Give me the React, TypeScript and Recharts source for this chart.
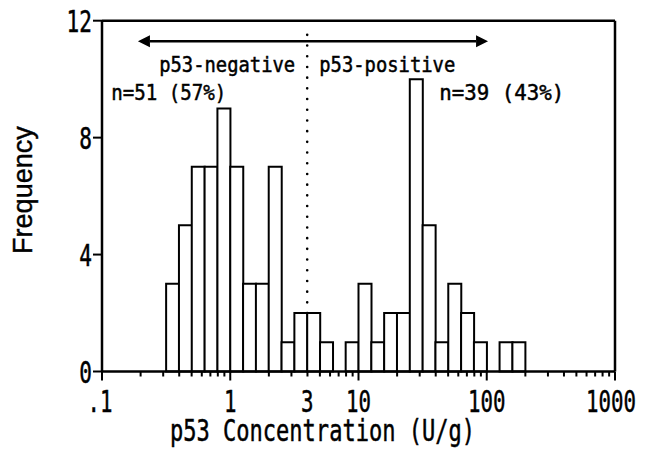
import React from 'react';
import { BarChart, Bar, XAxis, YAxis, ReferenceLine, ReferenceDot } from 'recharts';

// Histogram bins: centres in log10(U/g) units, bin width 0.1 decade
const BIN_LOG_CENTERS = [
  -0.45, -0.35, -0.25, -0.15, -0.05, 0.05, 0.15, 0.25, 0.35, 0.45,
  0.55, 0.65, 0.75, 0.85, 0.95, 1.05, 1.15, 1.25, 1.35, 1.45,
  1.55, 1.65, 1.75, 1.85, 1.95, 2.05, 2.15, 2.25,
];
const FREQUENCY = [
  3, 5, 7, 7, 9, 7, 3, 3, 7, 1,
  2, 2, 1, 0, 1, 3, 1, 2, 2, 10,
  5, 1, 3, 2, 1, 0, 1, 1,
];

const Y_TICKS = [0, 4, 8, 12];
const X_MAJOR = [0.1, 1, 10, 100, 1000];
const X_MINOR_FACTORS = [2, 3, 4, 5, 6, 7, 8, 9];
const X_LABEL_VALUES = [0.1, 1, 4, 10, 100, 1000]; // the "3" label sits at the cutoff line
const X_LABELS = ['.1', '1', '3', '10', '100', '1000'];
const CUTOFF_LOG = 0.6;

const ARROW_FROM = -0.72;
const ARROW_TO = 2.01;
const ARROW_Y = 11.3;
const DOT_TOP = 11.7;
const DOT_BOTTOM = 2;

const ANNOTATIONS = [
  { text: 'p53-negative', x: -0.554, y: 10.24, len: 136 },
  { text: 'p53-positive', x: 0.694, y: 10.24, len: 136 },
  { text: 'n=51 (57%)', x: -0.928, y: 9.28, len: 115 },
  { text: 'n=39 (43%)', x: 1.63, y: 9.28, len: 125 },
];

const data = BIN_LOG_CENTERS.map((x, i) => ({ x, count: FREQUENCY[i] }));
const majorLog = X_MAJOR.map((v) => Math.log10(v));
const minorLog: number[] = [];
X_MAJOR.slice(0, -1).forEach((d) => X_MINOR_FACTORS.forEach((f) => minorLog.push(Math.log10(d * f))));
const labelLog = X_LABEL_VALUES.map((v, i) => (X_LABELS[i] === '3' ? CUTOFF_LOG : Math.log10(v)));
const allTicks = Array.from(new Set([...majorLog, ...minorLog, ...labelLog])).sort((a, b) => a - b);

const MONO = "'DejaVu Sans Mono', monospace";
const TEXT_STROKE = { stroke: '#000', strokeWidth: 0.5 };
const near = (a: number, b: number) => Math.abs(a - b) < 1e-6;

const XTick = (props: any) => {
  const { x, y, payload } = props;
  const v = payload.value;
  const isMajor = majorLog.some((m) => near(m, v));
  const isMinor = minorLog.some((m) => near(m, v));
  const li = labelLog.findIndex((m) => near(m, v));
  const last = li === X_LABELS.length - 1;
  const first = li === 0;
  return (
    <g>
      {(isMajor || isMinor) && (
        <line x1={x} x2={x} y1={y} y2={y + (isMajor ? 9 : 5)} stroke="#000" strokeWidth={2} />
      )}
      {li >= 0 && (
        <text
          transform={`translate(${x + (last ? -4 : first ? -2 : 0)},${y + 40}) scale(0.67,1)`}
          textAnchor="middle"
          fontFamily={MONO}
          fontSize={31}
          fill="#000"
          {...TEXT_STROKE}
        >
          {X_LABELS[li]}
        </text>
      )}
    </g>
  );
};

const YTick = (props: any) => {
  const { x, y, payload } = props;
  return (
    <text
      transform={`translate(${x},${y}) scale(0.68,1)`}
      textAnchor="end"
      dy="0.36em"
      fontFamily={MONO}
      fontSize={31}
      fill="#000"
      {...TEXT_STROKE}
    >
      {payload.value}
    </text>
  );
};

const Arrow = (p: any) => {
  const { x1, y1, x2, y2 } = p;
  const h = 12;
  const w = 6;
  return (
    <g>
      <line x1={x1 + h} y1={y1} x2={x2 - h} y2={y2} stroke="#000" strokeWidth={2.5} />
      <polygon points={`${x1},${y1} ${x1 + h},${y1 - w} ${x1 + h},${y1 + w}`} fill="#000" />
      <polygon points={`${x2},${y2} ${x2 - h},${y2 - w} ${x2 - h},${y2 + w}`} fill="#000" />
    </g>
  );
};

const makeText = (text: string, len: number) => (p: any) => (
  <text
    x={p.cx}
    y={p.cy}
    fontFamily={MONO}
    fontSize={22}
    textLength={len}
    lengthAdjust="spacingAndGlyphs"
    fill="#000"
    {...TEXT_STROKE}
  >
    {text}
  </text>
);

const XTitle = (p: any) => {
  const vb = p.viewBox || {};
  return (
    <text
      x={vb.x + 68}
      y={vb.y + 69}
      fontFamily={MONO}
      fontSize={31}
      textLength={305}
      lengthAdjust="spacingAndGlyphs"
      fill="#000"
      {...TEXT_STROKE}
    >
      p53 Concentration (U/g)
    </text>
  );
};

const YTitle = (p: any) => {
  const vb = p.viewBox || {};
  const cx = vb.x + 15;
  const cy = vb.y + vb.height / 2 - 6;
  return (
    <text
      x={cx}
      y={cy}
      transform={`rotate(-90,${cx},${cy})`}
      textAnchor="middle"
      dominantBaseline="central"
      fontFamily="'Liberation Sans', Arial, sans-serif"
      fontSize={27}
      fill="#000"
      stroke="#000"
      strokeWidth={0.4}
    >
      Frequency
    </text>
  );
};

export default function App() {
  return (
    <BarChart
      width={630}
      height={455}
      data={data}
      margin={{ top: 12.7, right: 23, bottom: 0, left: 0 }}
      barCategoryGap={0}
      barGap={0}
    >
      <XAxis
        dataKey="x"
        type="number"
        domain={[-1, 3]}
        ticks={allTicks}
        interval={0}
        tick={<XTick />}
        tickLine={false}
        tickSize={0}
        tickMargin={0}
        height={91.5}
        axisLine={{ stroke: '#000', strokeWidth: 2.5 }}
        label={<XTitle />}
      />
      <YAxis
        type="number"
        domain={[0, 12]}
        ticks={Y_TICKS}
        interval={0}
        width={94}
        tickSize={9}
        tickMargin={1}
        tick={<YTick />}
        tickLine={{ stroke: '#000', strokeWidth: 2 }}
        axisLine={{ stroke: '#000', strokeWidth: 2.5 }}
        label={<YTitle />}
      />
      <Bar dataKey="count" fill="#fff" stroke="#000" strokeWidth={2} isAnimationActive={false} />
      <ReferenceLine y={12} stroke="#000" strokeWidth={2.5} />
      <ReferenceLine x={3} stroke="#000" strokeWidth={2.5} />
      <ReferenceLine
        segment={[{ x: CUTOFF_LOG, y: DOT_BOTTOM }, { x: CUTOFF_LOG, y: DOT_TOP }]}
        stroke="#000"
        strokeWidth={2.6}
        strokeDasharray="0 10.7"
        strokeLinecap="round"
      />
      <ReferenceLine
        segment={[{ x: ARROW_FROM, y: ARROW_Y }, { x: ARROW_TO, y: ARROW_Y }]}
        shape={Arrow}
      />
      {ANNOTATIONS.map((a) => (
        <ReferenceDot key={a.text} x={a.x} y={a.y} r={0} shape={makeText(a.text, a.len)} />
      ))}
    </BarChart>
  );
}
